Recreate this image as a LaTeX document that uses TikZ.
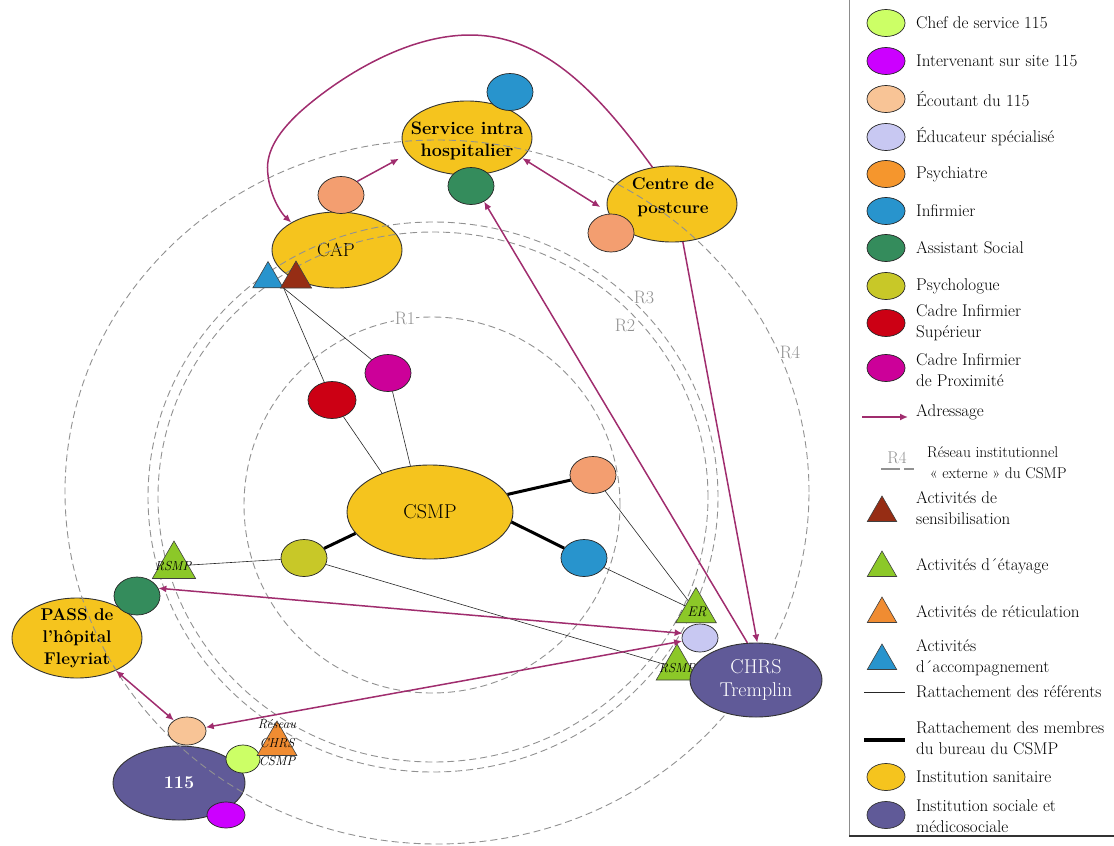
\documentclass[tikz,border=0pt]{standalone}
\usepackage{fontspec}
\usetikzlibrary{shapes.geometric,arrows.meta}
\definecolor{yelI}{RGB}{245,196,30}
\definecolor{purI}{RGB}{96,90,152}
\definecolor{chefC}{RGB}{204,255,102}
\definecolor{intC}{RGB}{204,0,255}
\definecolor{ecoC}{RGB}{248,196,150}
\definecolor{eduC}{RGB}{200,200,242}
\definecolor{psyaC}{RGB}{245,150,45}
\definecolor{salC}{RGB}{243,158,112}
\definecolor{infC}{RGB}{40,148,205}
\definecolor{asC}{RGB}{52,140,92}
\definecolor{psyoC}{RGB}{200,200,40}
\definecolor{cisC}{RGB}{204,0,20}
\definecolor{cipC}{RGB}{204,0,153}
\definecolor{arrC}{RGB}{160,45,110}
\definecolor{triBr}{RGB}{150,45,20}
\definecolor{triGr}{RGB}{140,200,40}
\definecolor{triOr}{RGB}{240,140,50}
\definecolor{triBl}{RGB}{40,148,205}
\definecolor{ringC}{RGB}{145,145,145}
\begin{document}
\begin{tikzpicture}[x=1pt,y=-1pt,
  inst/.style={ellipse,draw=black!80,line width=0.9pt,inner sep=0pt},
  san/.style={inst,fill=yelI},
  soc/.style={inst,fill=purI},
  sm/.style={ellipse,draw=black!85,line width=0.7pt,inner sep=0pt,minimum width=46pt,minimum height=37pt},
  lgi/.style={sm,minimum width=38pt,minimum height=27pt},
  tri/.style={regular polygon,regular polygon sides=3,draw=black!75,line width=0.6pt,inner sep=0pt},
  blab/.style={font=\fontsize{18}{22}\selectfont\bfseries,align=center,inner sep=0pt},
  rlab/.style={font=\fontsize{20}{23}\selectfont,align=center,inner sep=0pt},
  tlab/.style={font=\fontsize{13}{18.5}\selectfont\itshape,align=center,inner sep=0pt},
  ring/.style={draw=ringC,dash pattern=on 7pt off 4pt,line width=0.9pt},
  rtag/.style={text=ringC,font=\fontsize{18}{18}\selectfont,fill=white,inner sep=1pt},
  adr/.style={draw=arrC,line width=1.5pt,-{Latex[length=8pt,width=7pt]}},
  adrb/.style={draw=arrC,line width=1.5pt,{Latex[length=8pt,width=7pt]}-{Latex[length=8pt,width=7pt]}},
  refl/.style={draw=black!85,line width=0.6pt},
  burl/.style={draw=black,line width=3pt},
  leg/.style={anchor=west,font=\fontsize{17}{21}\selectfont,align=left,inner sep=0pt}]
\useasboundingbox (0,0) rectangle (1114,846);

% ---- institutions ----
\node[san,minimum width=130pt,minimum height=74pt] (sih) at (467,138) {};
\node[blab] (sihT) at (467,141) {Service intra\\hospitalier};
\node[san,minimum width=130pt,minimum height=76pt] (cdp) at (672,204) {};
\node[blab,font=\fontsize{17}{24}\selectfont\bfseries] (cdpT) at (673,197) {Centre de\\postcure};
\node[san,minimum width=130pt,minimum height=76pt] (cap) at (337,250) {};
\node[rlab,font=\fontsize{19}{22}\selectfont] (capT) at (336,250) {CAP};
\node[san,minimum width=166pt,minimum height=94pt] (csmp) at (430,512) {};
\node[rlab] (csmpT) at (430,512) {CSMP};
\node[san,minimum width=130pt,minimum height=80pt] (pass) at (77,638) {};
\node[blab,font=\fontsize{17}{22}\selectfont\bfseries] (passT) at (77,638) {PASS de\\l'hôpital\\Fleyriat};
\node[soc,minimum width=132pt,minimum height=74pt] (n115) at (179,783) {};
\node[blab,text=white] (n115T) at (179,783) {115};

% ---- dashed rings ----
\draw[ring] (432,505) ellipse [x radius=188pt, y radius=188pt];
\draw[ring] (433,497) ellipse [x radius=275pt, y radius=265pt];
\draw[ring] (433,497) ellipse [x radius=285pt, y radius=275pt];
\draw[ring] (437,492) ellipse [x radius=372pt, y radius=352pt];
\node[rtag] (r1) at (405,318) {R1};
\node[rtag] (r2) at (625,325) {R2};
\node[rtag] (r3) at (644,297) {R3};
\node[rtag] (r4) at (790,352) {R4};

% ---- small actors ----
\node[sm,fill=infC] (sihI) at (510,92) {};
\node[sm,fill=asC] (sihAS) at (471,186) {};
\node[sm,fill=salC] (capS) at (341,195) {};
\node[sm,fill=salC,minimum height=38pt] (cdpS) at (611,233) {};
\node[sm,fill=cisC,minimum width=48pt] (cis) at (332,400) {};
\node[sm,fill=cipC] (cip) at (388,373) {};
\node[sm,fill=salC] (sR) at (593,475) {};
\node[sm,fill=infC] (iR) at (584,558) {};
\node[sm,fill=psyoC] (psyc) at (304,558) {};
\node[sm,fill=asC,minimum height=38pt] (pAS) at (137,596) {};
\node[sm,fill=ecoC,minimum width=38pt,minimum height=28pt] (ecout) at (187,731) {};
\node[sm,fill=chefC,minimum width=34pt,minimum height=28pt] (chef) at (243,759) {};
\node[sm,fill=intC,minimum width=38pt,minimum height=26pt] (interv) at (226,815) {};
\node[sm,fill=eduC,minimum width=36pt,minimum height=28pt] (educ) at (700,638) {};

% ---- triangles ----
\node[tri,fill=triBl,minimum size=35pt] (triAcc) at (268,279) {};
\node[tri,fill=triBr,minimum size=36pt] (triSens) at (296,279) {};
\node[tri,fill=triGr,minimum size=50pt] (triL) at (174,566) {};
\node[tlab] (triLT) at (173,566) {RSMP};
\node[tri,fill=triGr,minimum size=47pt] (triER) at (696,611) {};
\node[tlab,font=\fontsize{14}{14}\selectfont\itshape] (triERT) at (697,612) {ER};
\node[tri,fill=triGr,minimum size=48pt] (triR) at (677,668) {};
\node[tlab] (triRT) at (677,668) {RSMP};
\node[tri,fill=triOr,minimum size=46pt] (triRet) at (277,744) {};
\node[tlab] (triRetT) at (277,743) {Réseau\\CHRS\\CSMP};

\node[soc,minimum width=132pt,minimum height=74pt] (chrs) at (756,680) {};
\node[rlab,text=white] (chrsT) at (756,680) {CHRS\\Tremplin};

% ---- rattachement lines ----
\draw[refl] (triAcc.corner 3) -- (cis);
\draw[refl] (triAcc.corner 3) -- (cip);
\draw[refl] (cis) -- (csmp.141);
\draw[refl] (cip) -- (csmp.113);
\draw[refl] (psyc) -- (triL);
\draw[refl] (psyc) -- (triR);
\draw[refl] (sR) -- (triER);
\draw[refl] (iR) -- (triER);
\draw[burl] (csmp) -- (sR);
\draw[burl] (csmp.353) -- (iR);
\draw[burl] (csmp.196) -- (psyc);

% ---- adressage ----
\draw[adr] (cdp.118) .. controls (600,95) and (545,35) .. (470,35)
  .. controls (400,35) and (330,85) .. (300,112)
  .. controls (275,135) and (265,155) .. (268,175)
  .. controls (270,195) and (280,212) .. (cap.149);
\draw[adr,shorten >=10pt] (capS.40) -- (sih.195);
\draw[adrb,shorten >=9pt] (sih.340) -- (cdp.187);
\draw[adr] (chrs.103) -- (sihAS.310);
\draw[adr] (cdp.286) -- (chrs.88);
\draw[adrb] (pAS.20) -- (educ.165);
\draw[adrb] (ecout.11) -- (educ.190);
\draw[adrb] (pass.320) -- (ecout.141);

% ---- legend ----
\draw[draw=black!45,line width=0.6pt] (849,0) -- (849,836);
\draw[draw=black!80,line width=2pt] (849,836) -- (1114,836);
\node[lgi,fill=chefC] (l1) at (886,23) {};
\node[leg] (l1t) at (916,23) {Chef de service 115};
\node[lgi,fill=intC] (l2) at (886,61) {};
\node[leg] (l2t) at (916,61) {Intervenant sur site 115};
\node[lgi,fill=ecoC] (l3) at (886,99) {};
\node[leg] (l3t) at (916,99) {Écoutant du 115};
\node[lgi,fill=eduC] (l4) at (886,137) {};
\node[leg] (l4t) at (916,137) {Éducateur spécialisé};
\node[lgi,fill=psyaC] (l5) at (886,174) {};
\node[leg] (l5t) at (916,174) {Psychiatre};
\node[lgi,fill=infC] (l6) at (886,211) {};
\node[leg] (l6t) at (916,211) {Infirmier};
\node[lgi,fill=asC] (l7) at (886,248) {};
\node[leg] (l7t) at (916,248) {Assistant Social};
\node[lgi,fill=psyoC] (l8) at (886,286) {};
\node[leg] (l8t) at (916,286) {Psychologue};
\node[lgi,fill=cisC] (l9) at (886,323) {};
\node[leg] (l9t) at (916,323) {Cadre Infirmier\\Supérieur};
\node[lgi,fill=cipC] (l10) at (886,368) {};
\node[leg] (l10t) at (916,370) {Cadre Infirmier\\de Proximité};
\coordinate (la1) at (862,417);
\coordinate (la2) at (908,417);
\draw[adr] (la1) -- (la2);
\node[leg] (l11t) at (916,412) {Adressage};
\node[text=ringC,font=\fontsize{17}{17}\selectfont,inner sep=0pt] (l12s) at (897,458) {R4};
\coordinate (lu1) at (881,469);
\coordinate (lu2) at (900,469);
\coordinate (lu3) at (904,469);
\coordinate (lu4) at (914,469);
\draw[ringC,line width=1.2pt] (lu1) -- (lu2) (lu3) -- (lu4);
\node[leg,font=\fontsize{15.5}{21}\selectfont] (l12t) at (927,463) {Réseau institutionnel\\\,« externe » du CSMP};
\node[tri,fill=triBr,minimum size=34pt] (l13) at (882,513) {};
\node[leg] (l13t) at (916,508) {Activités de\\sensibilisation};
\node[tri,fill=triGr,minimum size=34pt] (l14) at (882,568) {};
\node[leg] (l14t) at (916,566) {Activités d´étayage};
\node[tri,fill=triOr,minimum size=34pt] (l15) at (882,614) {};
\node[leg] (l15t) at (916,612) {Activités de réticulation};
\node[tri,fill=triBl,minimum size=34pt] (l16) at (882,661) {};
\node[leg] (l16t) at (916,658) {Activités\\d´accompagnement};
\coordinate (lr1) at (864,692);
\coordinate (lr2) at (905,692);
\draw[refl] (lr1) -- (lr2);
\node[leg] (l17t) at (916,692) {Rattachement des référents};
\coordinate (lb1) at (864,740);
\coordinate (lb2) at (905,740);
\draw[burl,line width=3.5pt] (lb1) -- (lb2);
\node[leg] (l18t) at (916,738) {Rattachement des membres\\du bureau du CSMP};
\node[lgi,fill=yelI,draw=black!80] (l19) at (886,777) {};
\node[leg] (l19t) at (916,777) {Institution sanitaire};
\node[lgi,fill=purI,draw=black!80] (l20) at (886,815) {};
\node[leg] (l20t) at (916,816) {Institution sociale et\\médicosociale};
\end{tikzpicture}
\end{document}
